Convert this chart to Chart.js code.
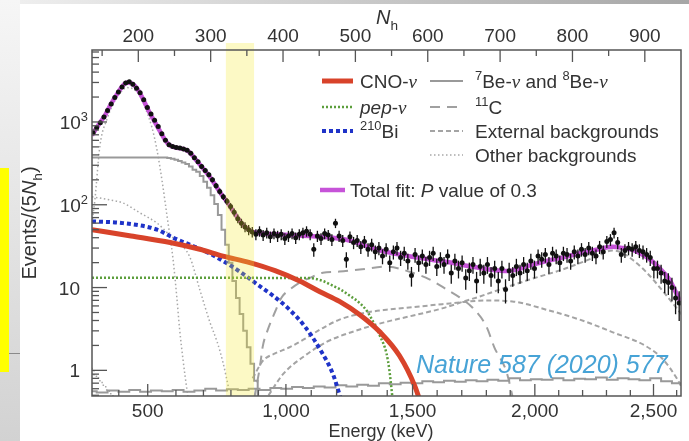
<!DOCTYPE html>
<html>
<head>
<meta charset="utf-8">
<script src="https://cdn.jsdelivr.net/npm/chart.js@4"></script>
<style>
  html, body { margin: 0; padding: 0; background: #fff; }
  #wrap { width: 689px; height: 441px; }
</style>
</head>
<body>
<div id="wrap"><canvas id="chart" width="689" height="441"></canvas></div>
<script>
// measured spectrum, bins of 5 N_h starting at 137.5
var binStart = 137.5, binWidth = 5;
var dataVals = [740, 850, 980, 1150, 1380, 1650, 1980, 2300, 2650, 2950,
  3050, 2850, 2550, 2250, 1850, 1500, 1250, 1050, 880, 720,
  600, 530, 505, 490, 485, 472, 455, 420, 370, 330,
  290, 260, 230, 200, 170, 145, 125, 110, 95, 81,
  68, 60, 54, 50, 47, 44, 48, 43, 46, 41,
  45, 42, 44, 39, 42, 45, 40, 44, 46, 48,
  44, 29, 42, 39, 45, 43, 38, 60, 42, 37,
  22, 41, 35, 37, 31, 36, 29, 33, 27, 30,
  24, 29, 20, 27, 30, 23, 26, 21, 14, 25,
  20, 24, 19, 23, 26, 18, 22, 19, 24, 15,
  21, 17, 20, 13, 16, 19, 12, 18, 15, 19,
  14, 17, 12, 17, 9.5, 16, 14, 18, 15, 19,
  16, 21, 17, 24, 22, 25, 19, 26, 24, 20,
  26, 25, 21, 27, 24, 29, 25, 30, 26, 24,
  31, 27, 36, 38, 46, 35, 25, 28, 30, 29,
  31, 28, 27, 25, 23, 17, 17, 15, 12, 11.5,
  10, 7.5, 6.5];

// total fit
var fitNh = [136, 140, 147, 154, 161, 171, 178, 184, 190, 196, 202, 207, 212, 217, 222, 227, 232, 237, 242, 247,
  252, 257, 262, 267, 272, 277, 282, 287, 292, 297, 302, 307, 312, 317, 322, 327, 332, 338, 344, 351,
  358, 365, 375, 389, 409, 437, 469, 492, 516, 538, 561, 579, 607, 630, 662, 690, 709, 727, 741, 760,
  786, 810, 833, 855, 870, 883, 900, 911, 925, 934, 945, 950];
var fitVals = [690, 790, 980, 1200, 1580, 2200, 2700, 3000, 2950, 2680, 2250, 1850, 1500, 1230, 1030, 860, 720, 605, 535, 505,
  490, 483, 472, 455, 420, 372, 330, 292, 258, 228, 198, 170, 146, 126, 110, 95, 81, 68, 58, 51,
  47, 45.5, 44.8, 44, 43, 42, 40, 37, 31.5, 27.5, 25, 23.5, 21.5, 20.2, 17.8, 16.3, 15.8, 16.8, 18.5, 20.5,
  23, 26, 28.6, 31, 30, 28.5, 24, 20.5, 15.5, 12.5, 8, 6.5];

// CNO-nu
var cnoNh = [136, 190, 244, 285, 317, 354, 389, 423, 451, 478, 506, 534, 561, 582, 595];
var cnoVals = [50, 42, 35, 29, 24, 20, 16, 12, 8.9, 6.8, 4.7, 2.9, 1.5, 0.65, 0.3];

// pep-nu
var pepNh = [136, 300, 437, 455, 469, 480, 492, 506, 516, 525, 534, 543, 547, 552];
var pepVals = [13.1, 13.1, 13, 12, 10.5, 9.4, 8, 6.5, 5.2, 3.8, 2.6, 1.6, 1.0, 0.4];

// 210Bi
var biNh = [136, 179, 226, 248, 271, 294, 317, 340, 364, 386, 409, 430, 451, 469, 480];
var biVals = [63, 60, 50, 40, 33, 27, 21, 15.6, 11, 8, 5.4, 3.4, 1.8, 0.9, 0.45];

// 7Be-nu (histogram)
var be7Nh = [135, 237.5, 242.5, 247.5, 252.5, 257.5, 262.5, 267.5, 272.5, 277.5, 282.5, 287.5, 292.5, 297.5,
  302.5, 307.5, 312.5, 317.5, 322.5, 327.5, 332.5, 337.5, 342.5, 347.5, 352.5, 357.5, 362.5, 367.5];
var be7Vals = [372, 372, 368, 360, 350, 338, 325, 310, 290, 265, 250, 222, 190, 160,
  130, 102, 75, 50, 33, 20, 12, 7.5, 4.8, 3, 1.9, 1.2, 0.75, 0.4];

// 8B-nu (histogram along the bottom)
var b8Nh = [135, 150, 165, 180, 195, 210, 225, 240, 255, 270, 285, 300, 315, 330, 345, 360, 375, 390, 405, 420,
  435, 450, 465, 480, 495, 510, 525, 540, 555, 570, 585, 600, 615, 630, 645, 660, 675, 690, 705, 720,
  735, 750, 765, 780, 795, 810, 825, 840, 855, 870, 885, 900, 915, 930, 945, 952];
var b8Vals = [0.56, 0.54, 0.57, 0.55, 0.58, 0.55, 0.57, 0.56, 0.58, 0.55, 0.57, 0.6, 0.57, 0.59, 0.58, 0.6, 0.58, 0.61, 0.6, 0.63,
  0.61, 0.64, 0.62, 0.66, 0.64, 0.67, 0.65, 0.7, 0.68, 0.71, 0.7, 0.74, 0.72, 0.75, 0.73, 0.76, 0.74, 0.77, 0.75, 0.8,
  0.76, 0.78, 0.77, 0.8, 0.76, 0.79, 0.78, 0.82, 0.77, 0.8, 0.78, 0.76, 0.8, 0.74, 0.7, 0.7];

// 11C
var c11Nh = [360, 368, 372, 379, 389, 398, 409, 423, 437, 455, 478, 506, 543, 579, 603, 626, 644, 662, 681, 692, 709, 718];
var c11Vals = [0.45, 1.1, 1.95, 3.1, 5.1, 7.6, 9.4, 11.5, 13.1, 15.1, 15.6, 16.5, 17.9, 15.1, 12.5, 9.5, 7.6, 5.7, 3.4, 1.9, 0.95, 0.45];

// external backgrounds (two components)
var extANh = [380, 400, 430, 460, 500, 540, 580, 620, 650, 672, 700, 741, 786, 833, 855, 870, 885, 900, 915, 930, 945, 952];
var extAVals = [0.5, 0.9, 1.5, 2.2, 3.0, 3.8, 4.6, 5.6, 6.8, 7.8, 9.5, 12.5, 16.5, 23.6, 28, 26, 21, 16, 11.5, 8, 5.5, 4.6];
var extBNh = [358, 372, 389, 409, 430, 451, 478, 516, 543, 579, 620, 650, 680, 717, 764, 810, 855, 902, 925, 945, 952];
var extBVals = [0.8, 1.3, 1.6, 1.9, 2.4, 3.1, 4.1, 5.0, 5.4, 5.8, 6.3, 6.7, 7.0, 6.8, 5.4, 4.1, 2.9, 1.95, 1.36, 0.78, 0.6];

// other backgrounds
var poNh = [136, 140, 147, 157, 166, 175, 184, 191, 198, 205, 212, 219, 226, 233, 240, 248, 253, 257, 262, 267, 272];
var poVals = [60, 115, 520, 1100, 1700, 2240, 2600, 2550, 2300, 1850, 1300, 850, 450, 190, 70, 22, 8, 3.2, 1.3, 0.6, 0.3];
var krNh = [136, 160, 179, 202, 226, 240, 255, 271, 285, 299, 309, 317, 325];
var krVals = [125, 115, 105, 80, 60, 46, 35, 23.6, 9.4, 3.8, 2.2, 1.25, 0.6];
var pileNh = [135, 142.5, 147.5, 152.5, 157.5, 162.5, 167.5];
var pileVals = [1.05, 0.85, 0.75, 0.66, 0.58, 0.52, 0.45];

// axes
var nhMajorTicks = [200, 300, 400, 500, 600, 700, 800, 900];
var nhMinorTicks = [150, 250, 350, 450, 550, 650, 750, 850];
var energyLabels = ['500', '1,000', '1,500', '2,000', '2,500'];
var energyTickNh = [213, 404, 579, 748, 912];
var energyMinorNh = [173, 252, 290, 328, 366, 439, 474, 509, 544, 613, 647, 681, 714, 781, 814, 847, 880, 944];
var yMajorTicks = [1, 10, 100, 1000];
var yPowers = ['', '', '2', '3'];
var yMinorTicks = [0.5, 0.6, 0.7, 0.8, 0.9, 2, 3, 4, 5, 6, 7, 8, 9, 20, 30, 40, 50, 60, 70, 80, 90,
  200, 300, 400, 500, 600, 700, 800, 900, 2000, 3000, 4000, 5000, 6000, 7000];
var bandNh = [321, 360];

var SANS = '"Liberation Sans", Arial, Helvetica, sans-serif';
var SERIF = '"Liberation Serif", "Times New Roman", serif';

function pts(xs, ys) {
  return xs.map(function(x, i) { return {x: x, y: ys[i]}; });
}
var dataPts = dataVals.map(function(v, i) { return {x: binStart + i * binWidth, y: v}; });

// draws text runs: {t, it, sup, sub, serif}
function drawRich(ctx, x, y, parts, size, align) {
  var w = 0;
  var runs = parts.map(function(p) {
    var s = (p.sup || p.sub) ? size * 0.68 : size;
    var f = (p.it ? 'italic ' : '') + s + 'px ' + (p.serif ? SERIF : SANS);
    ctx.font = f;
    var m = ctx.measureText(p.t).width;
    w += m;
    return {t: p.t, f: f, m: m, dy: p.sup ? -size * 0.4 : (p.sub ? size * 0.3 : 0)};
  });
  var cx = align === 'center' ? x - w / 2 : (align === 'right' ? x - w : x);
  ctx.textAlign = 'left';
  ctx.textBaseline = 'alphabetic';
  runs.forEach(function(r) {
    ctx.font = r.f;
    ctx.fillText(r.t, cx, y + r.dy);
    cx += r.m;
  });
  return w;
}

function seg(ctx, x1, y1, x2, y2) {
  ctx.beginPath(); ctx.moveTo(x1, y1); ctx.lineTo(x2, y2); ctx.stroke();
}

var legendRows = [
  {ds: 2, x1: 322, x2: 353, tx: 360, y: 81, parts: [{t: 'CNO-'}, {t: 'ν', it: true, serif: true}]},
  {ds: 3, x1: 322, x2: 353, tx: 360, y: 107, parts: [{t: 'pep', it: true}, {t: '-'}, {t: 'ν', it: true, serif: true}]},
  {ds: 4, x1: 322, x2: 353, tx: 360, y: 131, parts: [{t: '210', sup: true}, {t: 'Bi'}]},
  {ds: 5, x1: 430, x2: 463, tx: 475, y: 81, parts: [{t: '7', sup: true}, {t: 'Be-'}, {t: 'ν', it: true, serif: true},
    {t: ' and '}, {t: '8', sup: true}, {t: 'Be-'}, {t: 'ν', it: true, serif: true}]},
  {ds: 7, x1: 430, x2: 463, tx: 475, y: 107, parts: [{t: '11', sup: true}, {t: 'C'}]},
  {ds: 8, x1: 430, x2: 463, tx: 475, y: 131, parts: [{t: 'External backgrounds'}]},
  {ds: 10, x1: 430, x2: 463, tx: 475, y: 155, parts: [{t: 'Other backgrounds'}]},
  {ds: 1, x1: 320, x2: 345, tx: 350, y: 190, parts: [{t: 'Total fit: '}, {t: 'P', it: true}, {t: ' value of 0.3'}]}
];

var figurePlugin = {
  id: 'figure',
  beforeDraw: function(chart) {
    var ctx = chart.ctx;
    ctx.save();
    ctx.fillStyle = '#fff';
    ctx.fillRect(0, 0, chart.width, chart.height);
    var g = ctx.createLinearGradient(20, 0, chart.width, 0);
    g.addColorStop(0, '#eeeeee'); g.addColorStop(1, '#a6a6a6');
    ctx.fillStyle = g;
    ctx.fillRect(20, 0, chart.width - 20, 4);
    g = ctx.createLinearGradient(0, 0, 0, chart.height);
    g.addColorStop(0, '#f6f6f6'); g.addColorStop(1, '#d2d2d2');
    ctx.fillStyle = g;
    ctx.fillRect(0, 0, 20, chart.height);
    ctx.fillStyle = '#ffff00';
    ctx.fillRect(0, 168, 9, 204);
    ctx.strokeStyle = '#8a8a8a'; ctx.lineWidth = 1;
    seg(ctx, 9, 353.5, 20, 353.5);
    ctx.restore();
  },
  afterDatasetsDraw: function(chart) {
    var ctx = chart.ctx, a = chart.chartArea;
    var xs = chart.scales.x, ys = chart.scales.y;
    ctx.save();
    // error bars
    ctx.strokeStyle = '#111'; ctx.lineWidth = 1.3;
    dataPts.forEach(function(p) {
      var e = Math.sqrt(p.y);
      var px = xs.getPixelForValue(p.x);
      seg(ctx, px, ys.getPixelForValue(p.y + e), px, ys.getPixelForValue(Math.max(p.y - e, 0.3)));
    });
    // highlighted energy window
    var b0 = xs.getPixelForValue(bandNh[0]), b1 = xs.getPixelForValue(bandNh[1]);
    ctx.fillStyle = 'rgba(245, 232, 40, 0.27)';
    ctx.fillRect(b0, a.top - 7, b1 - b0, a.bottom - a.top + 7);
    // frame
    ctx.strokeStyle = '#555'; ctx.lineWidth = 1.5;
    ctx.strokeRect(a.left, a.top, a.right - a.left, a.bottom - a.top);
    ctx.lineWidth = 1.3;
    nhMajorTicks.forEach(function(v) { var p = xs.getPixelForValue(v); seg(ctx, p, a.top, p, a.top + 12); });
    nhMinorTicks.forEach(function(v) { var p = xs.getPixelForValue(v); seg(ctx, p, a.top, p, a.top + 6); });
    energyTickNh.forEach(function(v) { var p = xs.getPixelForValue(v); seg(ctx, p, a.bottom, p, a.bottom - 12); });
    energyMinorNh.forEach(function(v) { var p = xs.getPixelForValue(v); seg(ctx, p, a.bottom, p, a.bottom - 6); });
    yMajorTicks.forEach(function(v) { var p = ys.getPixelForValue(v); seg(ctx, a.left, p, a.left + 15, p); });
    yMinorTicks.forEach(function(v) { var p = ys.getPixelForValue(v); seg(ctx, a.left, p, a.left + 7, p); });
    // tick labels
    ctx.fillStyle = '#333';
    nhMajorTicks.forEach(function(v) {
      drawRich(ctx, xs.getPixelForValue(v), 42, [{t: String(v)}], 19, 'center');
    });
    energyTickNh.forEach(function(v, i) {
      drawRich(ctx, xs.getPixelForValue(v), 417, [{t: energyLabels[i]}], 19, 'center');
    });
    yMajorTicks.forEach(function(v, i) {
      var p = ys.getPixelForValue(v);
      var parts = [{t: String(v === 1 ? 1 : 10)}];
      if (yPowers[i]) parts.push({t: yPowers[i], sup: true});
      drawRich(ctx, yPowers[i] ? 88 : 80, p + 7, parts, 19, 'right');
    });
    // axis titles
    drawRich(ctx, 387, 24, [{t: 'N', it: true}, {t: 'h', sub: true}], 20, 'center');
    drawRich(ctx, 381, 437, [{t: 'Energy (keV)'}], 18, 'center');
    ctx.save();
    ctx.translate(36, 223);
    ctx.rotate(-Math.PI / 2);
    drawRich(ctx, 0, 0, [{t: 'Events/(5'}, {t: 'N', it: true}, {t: 'h', sub: true}, {t: ')'}], 20, 'center');
    ctx.restore();
    // legend
    legendRows.forEach(function(r) {
      var d = chart.data.datasets[r.ds];
      ctx.save();
      ctx.strokeStyle = d.borderColor; ctx.lineWidth = d.borderWidth;
      ctx.setLineDash(d.borderDash || []);
      seg(ctx, r.x1, r.y, r.x2, r.y);
      ctx.restore();
      ctx.fillStyle = '#333';
      drawRich(ctx, r.tx, r.y + 7, r.parts, 19, 'left');
    });
    // reference
    ctx.fillStyle = '#47a3d6';
    drawRich(ctx, 416, 373, [{t: 'Nature 587 (2020) 577', it: true}], 25, 'left');
    ctx.restore();
  }
};

function lineSet(label, xsArr, ysArr, color, width, dash, extra) {
  var d = {
    type: 'line', label: label, data: pts(xsArr, ysArr),
    borderColor: color, borderWidth: width, borderDash: dash,
    pointRadius: 0, fill: false, cubicInterpolationMode: 'monotone', order: 5
  };
  return Object.assign(d, extra || {});
}

var ctx = document.getElementById('chart').getContext('2d');
var chart = new Chart(ctx, {
  type: 'line',
  data: {
    datasets: [
      {type: 'line', label: 'Data', data: dataPts, showLine: false, pointRadius: 2.5,
        pointBackgroundColor: '#111', pointBorderColor: '#111', pointBorderWidth: 0, order: 0},
      lineSet('Total fit', fitNh, fitVals, '#c653d8', 4.5, [], {order: 1}),
      lineSet('CNO', cnoNh, cnoVals, '#d8432a', 5, [], {order: 2}),
      lineSet('pep', pepNh, pepVals, '#5c9e3c', 2.5, [2, 2], {order: 3}),
      lineSet('210Bi', biNh, biVals, '#1f33c8', 4, [4, 3], {order: 3}),
      lineSet('7Be', be7Nh, be7Vals, '#999999', 2, [], {stepped: 'middle'}),
      lineSet('8B', b8Nh, b8Vals, '#999999', 2, [], {stepped: 'middle'}),
      lineSet('11C', c11Nh, c11Vals, '#a0a0a0', 2, [10, 7]),
      lineSet('External A', extANh, extAVals, '#a4a4a4', 2, [5, 3]),
      lineSet('External B', extBNh, extBVals, '#a4a4a4', 2, [5, 3]),
      lineSet('Other Po', poNh, poVals, '#a8a8a8', 1.5, [1.5, 2.5]),
      lineSet('Other Kr', krNh, krVals, '#a8a8a8', 1.5, [1.5, 2.5]),
      lineSet('Other pileup', pileNh, pileVals, '#a8a8a8', 1.5, [1.5, 2.5], {stepped: 'middle'})
    ]
  },
  options: {
    responsive: false,
    animation: false,
    devicePixelRatio: 1,
    layout: {padding: {left: 92, right: 8, top: 50, bottom: 45}},
    plugins: {legend: {display: false}, tooltip: {enabled: false}},
    scales: {
      x: {type: 'linear', min: 136, max: 950, display: false},
      y: {type: 'logarithmic', min: 0.49, max: 7400, display: false}
    }
  },
  plugins: [figurePlugin]
});
</script>
</body>
</html>
